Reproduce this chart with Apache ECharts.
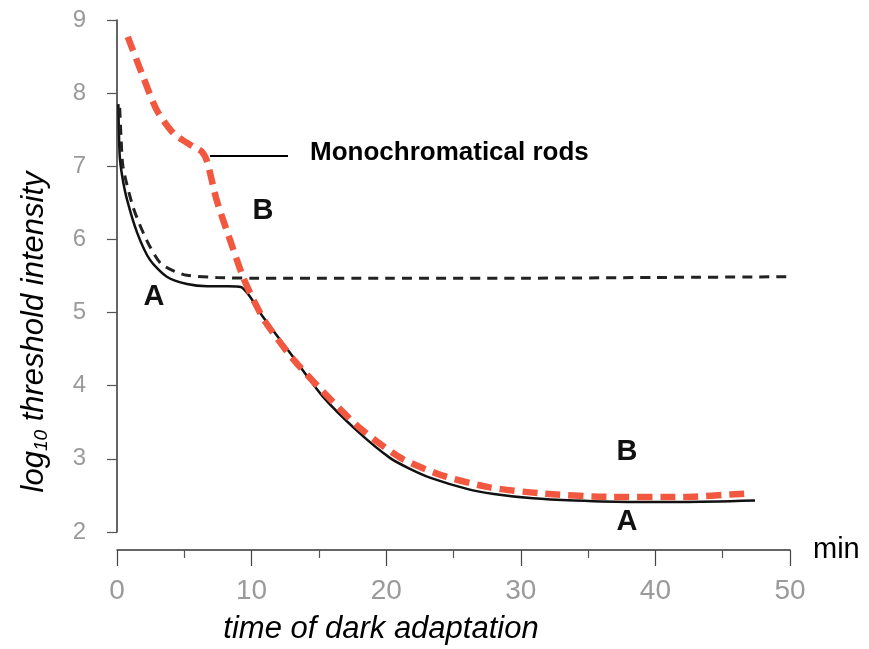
<!DOCTYPE html>
<html>
<head>
<meta charset="utf-8">
<script src="https://cdn.jsdelivr.net/npm/echarts@6/dist/echarts.min.js"></script>
<style>
  html, body { margin: 0; padding: 0; background: #fff; }
  #main { width: 869px; height: 649px; }
</style>
</head>
<body>
<div id="main"></div>
<script>
// curve A, solid (normal observer)
var solidX = [0.1, 0.2, 0.4, 0.75, 1.5, 2.45, 3.7, 5.2, 6.7, 8.2, 9.2, 10.85, 12.85, 15.3, 17.8, 20.3, 21.8, 23.3, 26, 28, 30.9, 34, 38.3, 42, 47.4];
var solidY = [7.85, 7.15, 6.85, 6.54, 6.09, 5.72, 5.49, 5.39, 5.36, 5.36, 5.35, 4.94, 4.45, 3.85, 3.39, 3.01, 2.86, 2.74, 2.59, 2.52, 2.46, 2.43, 2.41, 2.41, 2.43];

// cones only, dashed
var coneX = [0.2, 0.3, 0.45, 1.2, 2.2, 3.2, 4.2, 5.2, 7.4, 10, 13, 20, 30, 40, 50];
var coneY = [7.8, 7.4, 6.99, 6.44, 5.99, 5.68, 5.57, 5.51, 5.48, 5.47, 5.47, 5.47, 5.47, 5.48, 5.49];

// curve B, red dashed (monochromatic rods)
var rodX = [0.8, 1.95, 2.95, 4.2, 5.65, 6.3, 6.7, 7.4, 8.4, 9.4, 10.2, 11.1, 13.1, 15.3, 17.8, 19.8, 21.3, 24.2, 27.7, 31.4, 36.6, 42, 46.3, 47.2];
var rodY = [8.77, 8.22, 7.77, 7.45, 7.27, 7.2, 7.06, 6.54, 5.99, 5.47, 5.15, 4.85, 4.36, 3.92, 3.46, 3.17, 2.99, 2.77, 2.61, 2.53, 2.48, 2.48, 2.52, 2.53];

var xTicks = [0, 10, 20, 30, 40, 50];
var yTicks = [2, 3, 4, 5, 6, 7, 8, 9];

function pairs(xs, ys) {
  return xs.map(function(x, i) { return [x, ys[i]]; });
}

function letter(t, x, y) {
  return {
    type: 'text', x: x, y: y,
    style: { text: t, align: 'center', verticalAlign: 'middle', fontFamily: 'Liberation Sans', fontWeight: 'bold', fontSize: 29, fill: '#111' }
  };
}

var myChart = echarts.init(document.getElementById('main'));

var option = {
  animation: false,
  backgroundColor: '#fff',
  grid: { left: 117, right: 79, top: 20, bottom: 117 },
  xAxis: {
    type: 'value',
    min: xTicks[0],
    max: xTicks[xTicks.length - 1],
    interval: 10,
    offset: 18,
    name: 'min',
    nameLocation: 'end',
    nameGap: 23,
    nameTextStyle: { fontFamily: 'Liberation Sans', fontSize: 29, color: '#000' },
    axisLine: { show: true, lineStyle: { color: '#333', width: 1.5 } },
    axisTick: { show: true, length: 16, lineStyle: { color: '#444', width: 1.2 } },
    minorTick: { show: true, splitNumber: 2, length: 8, lineStyle: { color: '#555', width: 1.2 } },
    splitLine: { show: false },
    axisLabel: {
      margin: 27,
      fontFamily: 'Liberation Sans Narrow, Liberation Sans',
      fontSize: 28,
      color: '#9a9a9a'
    }
  },
  yAxis: {
    type: 'value',
    min: yTicks[0],
    max: yTicks[yTicks.length - 1],
    interval: 1,
    axisLine: { show: true, lineStyle: { color: '#333', width: 1.5 } },
    axisTick: { show: true, length: 10, lineStyle: { color: '#555', width: 1.2 } },
    splitLine: { show: false },
    axisLabel: {
      margin: 31,
      fontFamily: 'Liberation Sans',
      fontSize: 24,
      color: '#9a9a9a'
    }
  },
  graphic: [
    {
      type: 'text', x: 34, y: 332, rotation: Math.PI / 2,
      style: {
        text: '{a|log}{s|10}{a| threshold intensity}',
        align: 'center', verticalAlign: 'middle',
        rich: {
          a: { fontFamily: 'Liberation Sans', fontStyle: 'italic', fontSize: 31, fill: '#000', lineHeight: 32 },
          s: { fontFamily: 'Liberation Sans', fontStyle: 'italic', fontSize: 19, fill: '#000', lineHeight: 19, padding: [15, 0, 0, 0] }
        }
      }
    },
    {
      type: 'text', x: 381, y: 629,
      style: {
        text: 'time of dark adaptation', align: 'center', verticalAlign: 'middle',
        fontFamily: 'Liberation Sans', fontStyle: 'italic', fontSize: 31, fill: '#000'
      }
    },
    {
      type: 'line',
      shape: { x1: 210, y1: 156, x2: 288, y2: 156 },
      style: { stroke: '#000', lineWidth: 2 }
    },
    {
      type: 'text', x: 310, y: 153,
      style: {
        text: 'Monochromatical rods', align: 'left', verticalAlign: 'middle',
        fontFamily: 'Liberation Sans', fontWeight: 'bold', fontSize: 26, fill: '#000'
      }
    },
    letter('A', 154, 297),
    letter('B', 263, 211),
    letter('B', 627, 452),
    letter('A', 627, 522)
  ],
  series: [
    {
      name: 'A',
      type: 'line',
      data: pairs(solidX, solidY),
      showSymbol: false,
      smooth: 0.25,
      lineStyle: { color: '#111', width: 2.5 }
    },
    {
      name: 'cones',
      type: 'line',
      data: pairs(coneX, coneY),
      showSymbol: false,
      smooth: 0.25,
      lineStyle: { color: '#222', width: 3, type: [10, 7] }
    },
    {
      name: 'B',
      type: 'line',
      data: pairs(rodX, rodY),
      showSymbol: false,
      smooth: 0.25,
      lineStyle: { color: '#f2573f', width: 6.5, type: [15, 8] }
    }
  ]
};

myChart.setOption(option);
</script>
</body>
</html>
